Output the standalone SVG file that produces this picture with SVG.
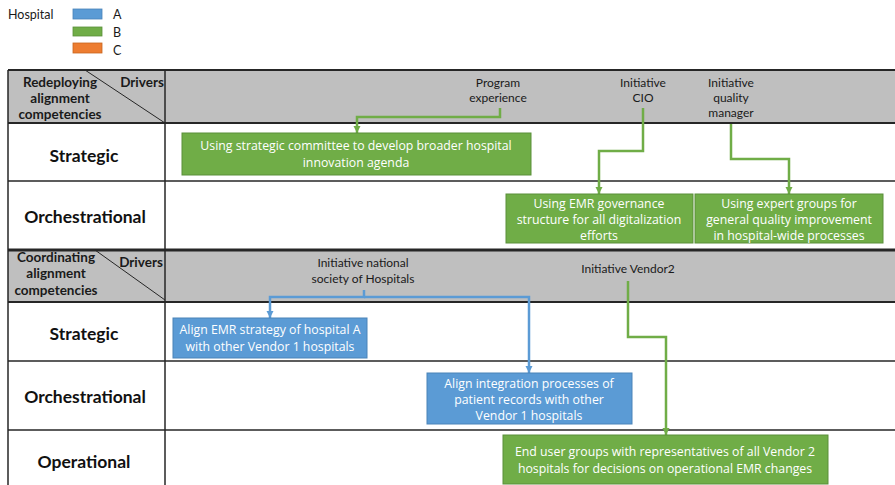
<svg xmlns="http://www.w3.org/2000/svg" width="895" height="485" viewBox="0 0 895 485">
<defs>
<style>
.hdr{fill:#bfbfbf}
.ln{stroke:#262626;fill:none}
.lbl{font-family:Lato,"Liberation Sans",sans-serif;font-size:12px;fill:#1a1a1a;text-anchor:middle}
.hd{font-family:Lato,"Liberation Sans",sans-serif;font-size:13.5px;font-weight:bold;fill:#1a1a1a;text-anchor:middle}
.row{font-family:Lato,"Liberation Sans",sans-serif;font-size:17.5px;font-weight:bold;fill:#111;text-anchor:middle}
.bt{font-family:"Open Sans","Liberation Sans",sans-serif;font-size:12.3px;fill:#fff;text-anchor:middle}
.gbox{fill:#70ad47;stroke:#5a8f3a;stroke-width:1}
.bbox{fill:#5b9bd5;stroke:#4a83b8;stroke-width:1}
.gc{stroke:#70ad47;stroke-width:2.5;fill:none}
.bc{stroke:#5b9bd5;stroke-width:2.5;fill:none}
</style>
<marker id="ag" viewBox="0 0 10 10" refX="10" refY="5" markerWidth="3" markerHeight="3" orient="auto" markerUnits="strokeWidth"><path d="M0,0 L10,5 L0,10 z" fill="#70ad47"/></marker>
<marker id="ab" viewBox="0 0 10 10" refX="10" refY="5" markerWidth="3" markerHeight="3" orient="auto" markerUnits="strokeWidth"><path d="M0,0 L10,5 L0,10 z" fill="#5b9bd5"/></marker>
</defs>

<g id="legend">
<text x="8" y="19" font-family="Lato,'Liberation Sans',sans-serif" font-size="12.5" fill="#1a1a1a">Hospital</text>
<rect x="73" y="9" width="29" height="10" fill="#5b9bd5" stroke="#4a83b8" stroke-width="0.8"/>
<rect x="73" y="27" width="29" height="9" fill="#70ad47" stroke="#5a8f3a" stroke-width="0.8"/>
<rect x="73" y="43" width="29" height="10" fill="#ed7d31" stroke="#c9651f" stroke-width="0.8"/>
<text x="113" y="19" font-family="Lato,'Liberation Sans',sans-serif" font-size="12.5" fill="#1a1a1a">A</text>
<text x="113" y="37" font-family="Lato,'Liberation Sans',sans-serif" font-size="12.5" fill="#1a1a1a">B</text>
<text x="113" y="55" font-family="Lato,'Liberation Sans',sans-serif" font-size="12.5" fill="#1a1a1a">C</text>
</g>

<g id="table">
<rect class="hdr" x="8" y="70" width="887" height="53"/>
<rect class="hdr" x="8" y="250" width="887" height="52"/>
<line class="ln" x1="8" y1="70" x2="895" y2="70" stroke-width="2"/>
<line class="ln" x1="8" y1="123" x2="895" y2="123" stroke-width="2"/>
<line class="ln" x1="8" y1="181" x2="895" y2="181" stroke-width="1.5" stroke="#3a3a3a"/>
<line class="ln" x1="8" y1="250" x2="895" y2="250" stroke-width="3"/>
<line class="ln" x1="8" y1="302" x2="895" y2="302" stroke-width="2"/>
<line class="ln" x1="8" y1="361" x2="895" y2="361" stroke-width="1.5"/>
<line class="ln" x1="8" y1="430" x2="895" y2="430" stroke-width="1.5" stroke="#555"/>
<line class="ln" x1="8" y1="70" x2="8" y2="485" stroke-width="1.5"/>
<line class="ln" x1="165" y1="70" x2="165" y2="485" stroke-width="1.5" stroke="#444"/>
<line class="ln" x1="85" y1="70" x2="165" y2="123" stroke-width="1"/>
<line class="ln" x1="95" y1="250" x2="165" y2="300" stroke-width="1"/>
</g>

<g id="header1">
<text class="hd" x="60" y="87">Redeploying</text>
<text class="hd" x="60" y="103">alignment</text>
<text class="hd" x="60" y="119">competencies</text>
<text class="hd" x="142" y="87">Drivers</text>
</g>
<g id="header2">
<text class="hd" x="56" y="262">Coordinating</text>
<text class="hd" x="56" y="278">alignment</text>
<text class="hd" x="56" y="295">competencies</text>
<text class="hd" x="141" y="267">Drivers</text>
</g>

<g id="rows">
<text class="row" x="84" y="162">Strategic</text>
<text class="row" x="85" y="223">Orchestrational</text>
<text class="row" x="84" y="340">Strategic</text>
<text class="row" x="85" y="403">Orchestrational</text>
<text class="row" x="84" y="468">Operational</text>
</g>

<g id="drivers">
<text class="lbl" x="498" y="87">Program</text>
<text class="lbl" x="498" y="102">experience</text>
<text class="lbl" x="643" y="87">Initiative</text>
<text class="lbl" x="643" y="102">CIO</text>
<text class="lbl" x="731" y="87">Initiative</text>
<text class="lbl" x="731" y="102">quality</text>
<text class="lbl" x="731" y="117">manager</text>
<text class="lbl" x="363" y="267">Initiative national</text>
<text class="lbl" x="363" y="283">society of Hospitals</text>
<text class="lbl" x="628" y="273">Initiative Vendor2</text>
</g>

<g id="connectors">
<path class="gc" d="M500,108 V117 H357 V133" marker-end="url(#ag)"/>
<path class="gc" d="M643,108 V151 H599 V194" marker-end="url(#ag)"/>
<path class="gc" d="M731,124 V159 H789 V194" marker-end="url(#ag)"/>
<path class="bc" d="M364,290 V297 H270 V318" marker-end="url(#ab)"/>
<path class="bc" d="M364,297 H529 V373" marker-end="url(#ab)"/>
<path class="gc" d="M628,281 V337 H666 V435" marker-end="url(#ag)"/>
</g>

<g id="box1">
<rect class="gbox" x="182" y="133" width="349" height="42"/>
<text class="bt" x="356" y="150">Using strategic committee to develop broader hospital</text>
<text class="bt" x="356" y="167">innovation agenda</text>
</g>
<g id="box2">
<rect class="gbox" x="506" y="194" width="187" height="49"/>
<text class="bt" x="599" y="208">Using EMR governance</text>
<text class="bt" x="599" y="224">structure for all digitalization</text>
<text class="bt" x="599" y="240">efforts</text>
</g>
<g id="box3">
<rect class="gbox" x="695" y="194" width="188" height="49"/>
<text class="bt" x="789" y="208">Using expert groups for</text>
<text class="bt" x="789" y="224">general quality improvement</text>
<text class="bt" x="789" y="240">in hospital-wide processes</text>
</g>
<g id="box4">
<rect class="bbox" x="173" y="318" width="194" height="40"/>
<text class="bt" x="270" y="334">Align EMR strategy of hospital A</text>
<text class="bt" x="270" y="351">with other Vendor 1 hospitals</text>
</g>
<g id="box5">
<rect class="bbox" x="427" y="373" width="205" height="51"/>
<text class="bt" x="529" y="388">Align integration processes of</text>
<text class="bt" x="529" y="404">patient records with other</text>
<text class="bt" x="529" y="420">Vendor 1 hospitals</text>
</g>
<g id="box6">
<rect class="gbox" x="503" y="435" width="325" height="49"/>
<text class="bt" x="665" y="456">End user groups with representatives of all Vendor 2</text>
<text class="bt" x="665" y="473">hospitals for decisions on operational EMR changes</text>
</g>
</svg>
